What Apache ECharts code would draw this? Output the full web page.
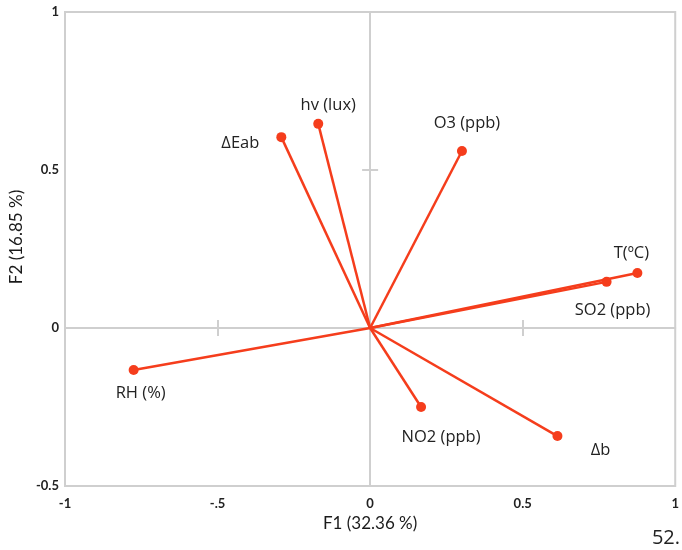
<!DOCTYPE html>
<html>
<head>
<meta charset="utf-8">
<script src="https://cdn.jsdelivr.net/npm/echarts@6/dist/echarts.min.js"></script>
<style>
  html, body { margin: 0; padding: 0; background: #fff; }
  #chart { width: 682px; height: 550px; }
</style>
</head>
<body>
<div id="chart"></div>
<script>
// Variable loadings on the first two factors (F1, F2)
const variables = ['ΔEab', 'hv (lux)', 'O3 (ppb)', 'T(ºC)', 'SO2 (ppb)', 'RH (%)', 'NO2 (ppb)', 'Δb'];
const f1 = [-0.291, -0.170, 0.301, 0.876, 0.775, -0.775, 0.167, 0.614];
const f2 = [0.604, 0.646, 0.560, 0.174, 0.146, -0.133, -0.250, -0.342];

const xTickText = { '-1': '-1', '-0.5': '-.5', '0': '0', '0.5': '0.5', '1': '1' };
const xTitle = 'F1 (32.36 %)';
const yTitle = 'F2 (16.85 %)';
const pageNumber = '52.';

// Label placement next to each vector tip (pixels)
const labelOffsets = [[-41, 6], [10, -19], [5, -28], [-6, -20], [6, 28], [7, 23], [20, 30], [43, 14]];

const RED = '#f53d1c';
const GRAY = '#cfcfcf';
const TICK_FONT = 'Lato';
const LABEL_FONT = 'Open Sans';

const series = variables.map((name, i) => ({
  name: name,
  type: 'line',
  xAxisIndex: 0,
  yAxisIndex: 0,
  data: [[0, 0], [f1[i], f2[i]]],
  lineStyle: { color: RED, width: 2.5 },
  itemStyle: { color: RED },
  symbol: 'circle',
  symbolSize: (v, p) => (p.dataIndex === 1 ? 10 : 0),
  showAllSymbol: true,
  animation: false,
  z: 5,
  label: {
    show: true,
    formatter: p => (p.dataIndex === 1 ? name : ''),
    position: 'inside',
    offset: labelOffsets[i],
    align: 'center',
    verticalAlign: 'middle',
    color: '#222',
    fontFamily: LABEL_FONT,
    fontSize: 16.5
  }
}));

const gridBox = { left: 65, right: 5, top: 12, bottom: 64 };

const option = {
  backgroundColor: '#fff',
  animation: false,
  grid: Object.assign({ show: true, borderColor: GRAY, borderWidth: 2, backgroundColor: 'transparent' }, gridBox),
  xAxis: [
    {
      type: 'value', min: -1, max: 1, interval: 0.5, position: 'bottom',
      axisLine: { show: false, onZero: false },
      axisTick: { show: false },
      splitLine: { show: false },
      axisLabel: {
        margin: 11, color: '#222', fontFamily: TICK_FONT, fontSize: 13, fontWeight: 'bold',
        formatter: v => xTickText[String(v)]
      },
      name: xTitle, nameLocation: 'middle', nameGap: 28,
      nameTextStyle: { color: '#1a1a1a', fontFamily: TICK_FONT, fontSize: 17 }
    },
    {
      type: 'value', min: -1, max: 1, position: 'bottom',
      axisLine: { show: true, onZero: true, lineStyle: { color: GRAY, width: 2 } },
      axisTick: { show: true, customValues: [-0.5, 0.5], length: 8, lineStyle: { color: GRAY, width: 2 } },
      axisLabel: { show: false },
      splitLine: { show: false }
    },
    {
      type: 'value', min: -1, max: 1, position: 'bottom',
      axisLine: { show: false, onZero: true },
      axisTick: { show: true, inside: true, customValues: [-0.5, 0.5], length: 8, lineStyle: { color: GRAY, width: 2 } },
      axisLabel: { show: false },
      splitLine: { show: false }
    }
  ],
  yAxis: [
    {
      type: 'value', min: -0.5, max: 1, interval: 0.5, position: 'left',
      axisLine: { show: false, onZero: false },
      axisTick: { show: false },
      splitLine: { show: false },
      axisLabel: { margin: 6, color: '#222', fontFamily: TICK_FONT, fontSize: 13, fontWeight: 'bold' },
      name: yTitle, nameLocation: 'middle', nameGap: 37, nameRotate: 90,
      nameTextStyle: { color: '#1a1a1a', fontFamily: TICK_FONT, fontSize: 17, padding: [0, 0, 0, 24] }
    },
    {
      type: 'value', min: -0.5, max: 1, position: 'left',
      axisLine: { show: true, onZero: true, lineStyle: { color: GRAY, width: 2 } },
      axisTick: { show: true, customValues: [0.5], length: 8, lineStyle: { color: GRAY, width: 2 } },
      axisLabel: { show: false },
      splitLine: { show: false }
    },
    {
      type: 'value', min: -0.5, max: 1, position: 'left',
      axisLine: { show: false, onZero: true },
      axisTick: { show: true, inside: true, customValues: [0.5], length: 8, lineStyle: { color: GRAY, width: 2 } },
      axisLabel: { show: false },
      splitLine: { show: false }
    }
  ],
  graphic: [
    {
      type: 'text', right: 2, bottom: 2,
      style: { text: pageNumber, fill: '#222', font: '20px "Open Sans"' }
    }
  ],
  series: series
};

const chart = echarts.init(document.getElementById('chart'), null, { renderer: 'canvas' });
chart.setOption(option);
</script>
</body>
</html>
